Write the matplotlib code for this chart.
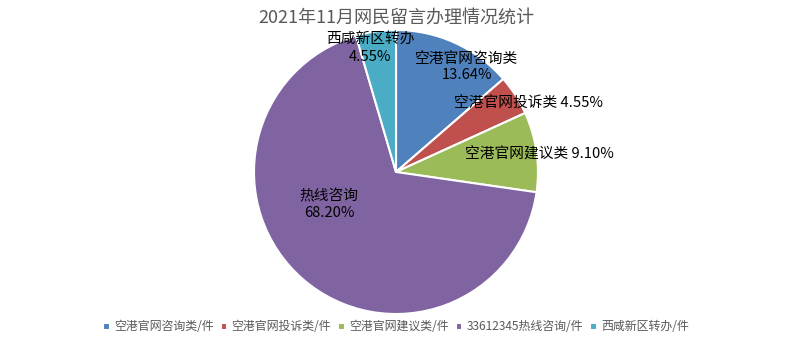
import matplotlib
matplotlib.use("Agg")
import matplotlib.pyplot as plt

plt.rcParams['font.family'] = ['Noto Sans CJK SC', 'DejaVu Sans']

TITLE = "2021年11月网民留言办理情况统计"
legend_names = ["空港官网咨询类/件", "空港官网投诉类/件", "空港官网建议类/件",
                "33612345热线咨询/件", "西咸新区转办/件"]
slice_labels = ["空港官网咨询类\n13.64%", "空港官网投诉类 4.55%", "空港官网建议类 9.10%",
                "热线咨询\n68.20%", "西咸新区转办\n4.55%"]
percents = [13.64, 4.55, 9.10, 68.20, 4.55]
colors = ['#4F81BD', '#C0504D', '#9BBB59', '#8064A2', '#4BACC6']

# label anchor positions (axes data units, pie radius = 1)
label_pos = [(0.50, 0.74), (0.93, 0.48), (1.01, 0.12), (-0.47, -0.23), (-0.18, 0.87)]

fig = plt.figure(figsize=(7.92, 3.48), dpi=100)
ax = fig.add_axes([254 / 792, 34 / 348, 284 / 792, 284 / 348])

wedges, _ = ax.pie(percents, colors=colors, startangle=90, counterclock=False,
                   radius=1, wedgeprops=dict(edgecolor='white', linewidth=1.5))
ax.set_xlim(-1, 1)
ax.set_ylim(-1, 1)
ax.set_aspect('equal')
ax.axis('off')

for txt, (x, y) in zip(slice_labels, label_pos):
    ax.text(x, y, txt, ha='center', va='center', fontsize=10.6, color='black',
            linespacing=1.25)

fig.text(0.5, 1 - 18 / 348, TITLE, ha='center', va='center', fontsize=13, color='#595959')

fig.legend(wedges, legend_names, loc='center', bbox_to_anchor=(0.5, 1 - 327 / 348),
           ncol=5, frameon=False, fontsize=8.6, handlelength=0.55, handleheight=0.55,
           handletextpad=0.35, columnspacing=0.6, labelcolor='#595959')

fig.savefig("out.png", dpi=100)
